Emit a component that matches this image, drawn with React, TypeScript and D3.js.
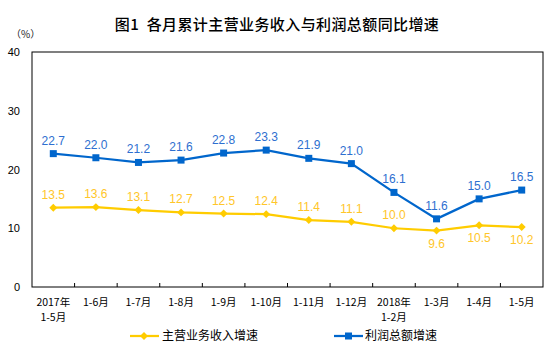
import React from "react";
import * as d3 from "d3";

const categories: string[][] = [
  ["2017年", "1-5月"], ["1-6月"], ["1-7月"], ["1-8月"], ["1-9月"], ["1-10月"],
  ["1-11月"], ["1-12月"], ["2018年", "1-2月"], ["1-3月"], ["1-4月"], ["1-5月"],
];
const revenueGrowth = [13.5, 13.6, 13.1, 12.7, 12.5, 12.4, 11.4, 11.1, 10.0, 9.6, 10.5, 10.2];
const profitGrowth = [22.7, 22.0, 21.2, 21.6, 22.8, 23.3, 21.9, 21.0, 16.1, 11.6, 15.0, 16.5];
const revenueLabelBelow = [false, false, false, false, false, false, false, false, false, true, true, true];
const yTicks = [0, 10, 20, 30, 40];
const seriesNames = ["主营业务收入增速", "利润总额增速"];
const title = "图1  各月累计主营业务收入与利润总额同比增速";

const W = 554, H = 353;
const left = 32, right = 543, top = 52, bottom = 287;
const BLUE = "#0066CC", YELLOW = "#FFCC00";
const BLUE_TXT = "#2E6FD0", YELLOW_TXT = "#FFC629";
const CJK = "'Noto Sans CJK SC', sans-serif";
const NUM = "'Liberation Sans', Arial, sans-serif";

export default function App() {
  const x = d3.scaleBand<number>().domain(d3.range(categories.length)).range([left, right]);
  const y = d3.scaleLinear().domain([0, 40]).range([bottom, top]);
  const cx = (i: number) => (x(i) as number) + x.bandwidth() / 2;
  const line = d3.line<number>().x((_, i) => cx(i)).y((d) => y(d));

  return (
    <svg width={W} height={H} style={{ position: "absolute", left: 0, top: 0, background: "#fff" }}>
      <rect width={W} height={H} fill="#fff" />
      <text x={277} y={30} textAnchor="middle" fontFamily={CJK} fontSize={15} fontWeight={500} letterSpacing={0.4} fill="#000" style={{ whiteSpace: "pre" }}>{title}</text>
      <text x={11} y={38} fontFamily={CJK} fontSize={10} fill="#222">（%）</text>
      {yTicks.map((t) => (
        <text key={t} x={20} y={y(t) + 4} textAnchor="end" fontFamily={NUM} fontSize={11} fill="#000">{t}</text>
      ))}
      <rect x={left} y={top} width={right - left} height={bottom - top} fill="none" stroke="#000" strokeWidth={1} />
      {d3.range(1, categories.length).map((i) => (
        <line key={i} x1={x(i) as number} x2={x(i) as number} y1={bottom} y2={bottom - 4} stroke="#000" strokeWidth={1} />
      ))}
      {categories.map((c, i) => (
        <g key={i}>
          {c.map((s, j) => (
            <text key={j} x={cx(i)} y={306 + j * 15} textAnchor="middle" fontFamily={CJK} fontSize={10.5} fill="#000">{s}</text>
          ))}
        </g>
      ))}
      <path d={line(revenueGrowth) || ""} fill="none" stroke={YELLOW} strokeWidth={2.25} />
      <path d={line(profitGrowth) || ""} fill="none" stroke={BLUE} strokeWidth={2.25} />
      {revenueGrowth.map((v, i) => (
        <path key={i} d={d3.symbol(d3.symbolDiamond2, 40)() || ""} transform={`translate(${cx(i)},${y(v)})`} fill={YELLOW} />
      ))}
      {profitGrowth.map((v, i) => (
        <rect key={i} x={cx(i) - 3.5} y={y(v) - 3.5} width={7} height={7} fill={BLUE} />
      ))}
      {profitGrowth.map((v, i) => (
        <text key={i} x={cx(i)} y={y(v) - 9} textAnchor="middle" fontFamily={NUM} fontSize={12} fill={BLUE_TXT}>{v.toFixed(1)}</text>
      ))}
      {revenueGrowth.map((v, i) => (
        <text key={i} x={cx(i)} y={revenueLabelBelow[i] ? y(v) + 17 : y(v) - 9} textAnchor="middle" fontFamily={NUM} fontSize={12} fill={YELLOW_TXT}>{v.toFixed(1)}</text>
      ))}
      <g>
        <line x1={130} x2={159} y1={336} y2={336} stroke={YELLOW} strokeWidth={2.25} />
        <path d={d3.symbol(d3.symbolDiamond2, 40)() || ""} transform="translate(144,336)" fill={YELLOW} />
        <text x={162} y={340} fontFamily={CJK} fontSize={12} fill="#000">{seriesNames[0]}</text>
        <line x1={334} x2={363} y1={336} y2={336} stroke={BLUE} strokeWidth={2.25} />
        <rect x={345} y={332.5} width={7} height={7} fill={BLUE} />
        <text x={365} y={340} fontFamily={CJK} fontSize={12} fill="#000">{seriesNames[1]}</text>
      </g>
    </svg>
  );
}
